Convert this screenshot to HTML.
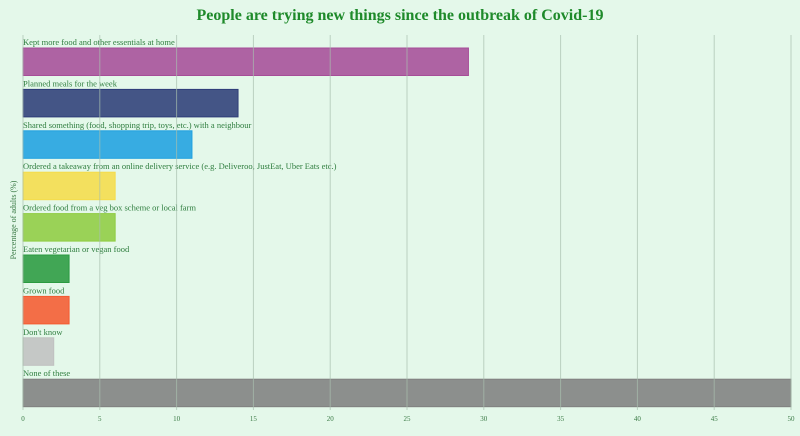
<!DOCTYPE html>
<html><head><meta charset="utf-8"><style>
body{margin:0;background:#e4f8ea;}
svg{display:block;font-family:"Liberation Serif",serif;}
</style></head><body>
<svg width="800" height="436">
<rect width="800" height="436" fill="#e4f8ea"/>
<text x="400" y="20" text-anchor="middle" font-size="16" font-weight="bold" fill="#1e8a2a">People are trying new things since the outbreak of Covid-19</text>
<text transform="translate(16,220) rotate(-90)" text-anchor="middle" font-size="8" fill="#3a7a45">Percentage of adults (%)</text>
<g id="grid"></g><g id="bars"></g><g id="axis"></g>
</svg>
<script>
const categories=["Kept more food and other essentials at home","Planned meals for the week","Shared something (food, shopping trip, toys, etc.) with a neighbour","Ordered a takeaway from an online delivery service (e.g. Deliveroo, JustEat, Uber  Eats etc.)","Ordered food from a veg box scheme or local farm","Eaten vegetarian or vegan food","Grown food","Don't know","None of these"];
const values=[29,14,11,6,6,3,3,2,50];
const colors=["#a64d98","#2e3d78","#1fa0e0","#f5dc4a","#8fcc42","#2a9a40","#f55a30","#c0c0c0","#808080"];
const ticks=[0,5,10,15,20,25,30,35,40,45,50];
const NS="http://www.w3.org/2000/svg";
const x0=23,x1=791,xmax=50;
const xs=v=>x0+(x1-x0)*v/xmax;
const yTop=48,step=41.4,bh=27.5;
function mk(t,a,p){const e=document.createElementNS(NS,t);for(const k in a)e.setAttribute(k,a[k]);p.appendChild(e);return e;}
const bars=document.getElementById('bars'),grid=document.getElementById('grid'),axis=document.getElementById('axis');
categories.forEach((c,i)=>{
 const y=yTop+i*step;
 const r=mk('rect',{x:x0,y:y,width:xs(values[i])-x0,height:bh,fill:colors[i],'fill-opacity':0.88,stroke:colors[i],'stroke-width':1},bars);
 
 
 const t=mk('text',{x:x0,y:y-3,'font-size':8.5,fill:'#2e7d3e'},bars);
 t.textContent=c;
 
 
});
ticks.forEach(v=>{
 const l=mk('line',{x1:xs(v),x2:xs(v),y1:35,y2:410,stroke:'#a8bfae','stroke-width':1,'stroke-opacity':0.7},axis);
 
 
 const t=mk('text',{x:xs(v),y:421,'font-size':7,'text-anchor':'middle',fill:'#3a7a45'},axis);
 t.textContent=v;
 
 
});
</script>
</body></html>
